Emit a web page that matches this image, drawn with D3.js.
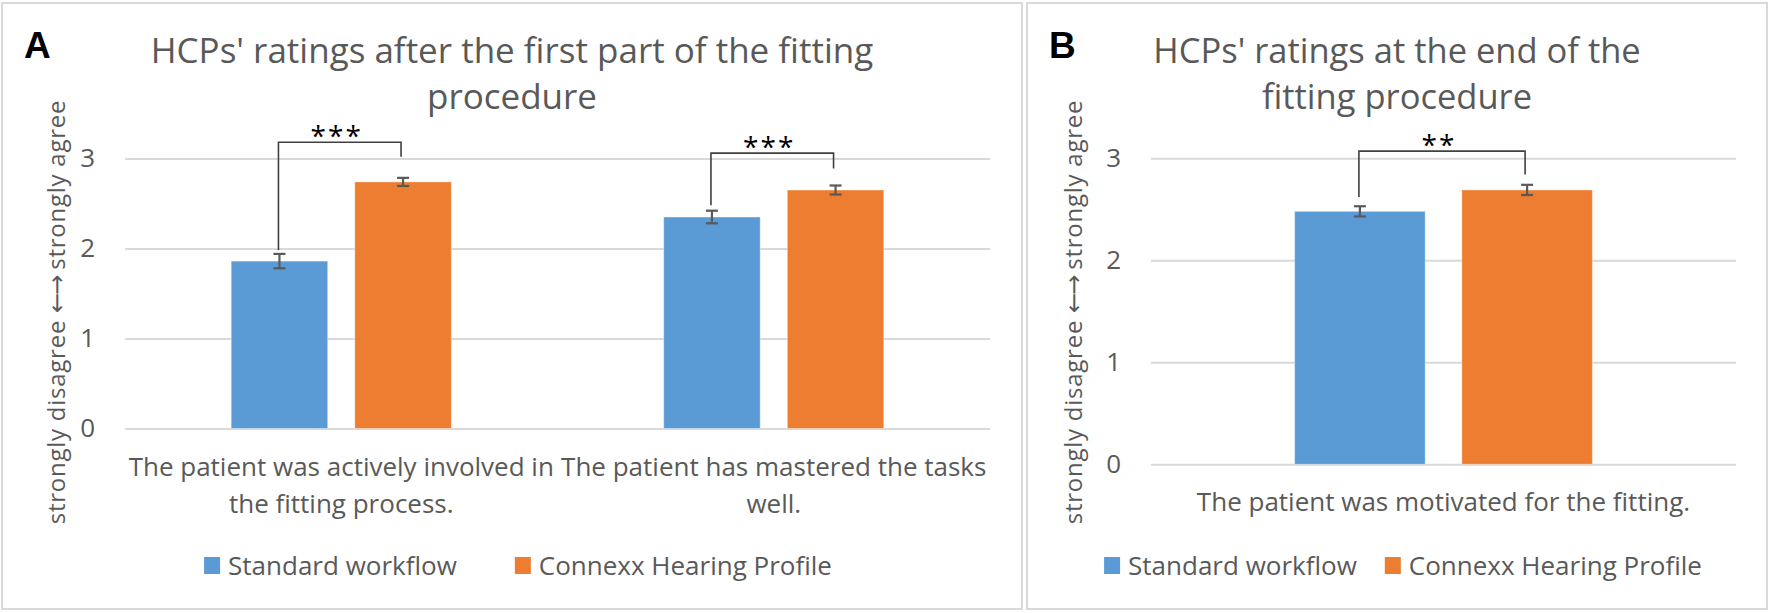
<!DOCTYPE html>
<html>
<head>
<meta charset="utf-8">
<script src="https://cdn.jsdelivr.net/npm/d3@7"></script>
<style>
  html, body { margin: 0; padding: 0; background: #fff; }
  svg { display: block; font-family: "Open Sans", "Noto Sans", sans-serif; }
</style>
</head>
<body>
<script>
// series shared by both panels
const seriesNames = ["Standard workflow", "Connexx Hearing Profile"];
const seriesColors = ["#5B9BD5", "#ED7D31"];
const yTicks = [0, 1, 2, 3];
const yTitle = "strongly disagree \u2190\u2192 strongly agree";

// panel A
const titleA = ["HCPs' ratings after the first part of the fitting", "procedure"];
const categoriesA = ["The patient was actively involved in the fitting process.", "The patient has mastered the tasks well."];
const standardA = [1.86, 2.35];
const connexxA = [2.74, 2.65];
const standardErrA = [0.08, 0.07];
const connexxErrA = [0.045, 0.05];
const starsA = ["***", "***"];
const bracketTopA = [3.18, 3.06];
const bracketLeftEndA = [1.98, 2.48];
const bracketRightEndA = [3.02, 2.89];

// panel B
const titleB = ["HCPs' ratings at the end of the", "fitting procedure"];
const categoriesB = ["The patient was motivated for the fitting."];
const standardB = [2.48];
const connexxB = [2.69];
const standardErrB = [0.05];
const connexxErrB = [0.05];
const starsB = ["**"];
const bracketTopB = [3.07];
const bracketLeftEndB = [2.62];
const bracketRightEndB = [2.84];

const width = 1770, height = 613;
const textColor = "#595959";

const svg = d3.select("body").append("svg")
  .attr("width", width)
  .attr("height", height)
  .attr("viewBox", [0, 0, width, height]);

svg.append("rect").attr("width", width).attr("height", height).attr("fill", "#fff");

function panel(opts) {
  const {
    frame, label, title, titleSize, categories, values, errors, stars,
    bracketTop, bracketLeftEnd, bracketRightEnd,
    plotLeft, plotRight, yBottom, yTop, yTitleX, legendCx, legendGap
  } = opts;

  const g = svg.append("g");

  // panel frame
  g.append("rect")
    .attr("x", frame[0]).attr("y", frame[1])
    .attr("width", frame[2]).attr("height", frame[3])
    .attr("fill", "#fff")
    .attr("stroke", "#D9D9D9")
    .attr("stroke-width", 2);

  const cx = frame[0] + frame[2] / 2;

  // panel letter
  g.append("text")
    .attr("x", frame[0] + 22).attr("y", 58)
    .attr("font-family", "Liberation Sans, Arial, sans-serif")
    .attr("font-weight", "bold")
    .attr("font-size", 37)
    .attr("fill", "#000")
    .text(label);

  // title
  g.append("g").selectAll("text")
    .data(title)
    .join("text")
    .attr("x", cx)
    .attr("y", (d, i) => 63 + i * 46)
    .attr("text-anchor", "middle")
    .attr("font-size", titleSize)
    .attr("fill", textColor)
    .text(d => d);

  const y = d3.scaleLinear().domain([0, 3]).range([yBottom, yTop]);

  const x0 = d3.scaleBand().domain(categories).range([plotLeft, plotRight]);
  const groupW = x0.bandwidth() * 0.509;
  const x1 = d3.scaleBand().domain(seriesNames)
    .range([-groupW / 2, groupW / 2])
    .paddingInner(0.219);

  // gridlines + tick labels
  g.append("g")
    .attr("transform", `translate(${plotLeft},0)`)
    .call(d3.axisLeft(y).tickValues(yTicks).tickFormat(d3.format("d"))
      .tickSize(-(plotRight - plotLeft)).tickPadding(30))
    .call(a => a.select(".domain").remove())
    .call(a => a.selectAll(".tick line").attr("stroke", "#D9D9D9").attr("stroke-width", 2))
    .call(a => a.selectAll(".tick text")
      .attr("font-size", 26)
      .attr("font-family", "Open Sans, sans-serif")
      .attr("fill", textColor));

  // y axis title (arrows drawn from DejaVu, Open Sans has none)
  const yt = g.append("text")
    .attr("transform", `translate(${yTitleX},312) rotate(-90)`)
    .attr("text-anchor", "middle")
    .attr("dy", "0.35em")
    .attr("font-size", 24)
    .attr("letter-spacing", 0.75)
    .attr("fill", textColor);
  yt.selectAll("tspan")
    .data(yTitle.split(/([\u2190-\u2199]+)/).filter(s => s.length))
    .join("tspan")
    .attr("font-family", d => /[\u2190-\u2199]/.test(d) ? "DejaVu Sans" : null)
    .attr("letter-spacing", d => /[\u2190-\u2199]/.test(d) ? -2 : null)
    .text(d => d);

  // bars
  const rows = categories.map((c, i) => seriesNames.map((s, k) => ({
    cat: c, series: s, k, value: values[k][i], err: errors[k][i]
  })));

  const groups = g.append("g").selectAll("g")
    .data(rows)
    .join("g")
    .attr("transform", (d, i) => `translate(${x0(categories[i]) + x0.bandwidth() / 2},0)`);

  groups.selectAll("rect")
    .data(d => d)
    .join("rect")
    .attr("x", d => x1(d.series))
    .attr("y", d => y(d.value))
    .attr("width", x1.bandwidth())
    .attr("height", d => y(0) - y(d.value))
    .attr("fill", d => seriesColors[d.k])
    .attr("stroke", "#fff")
    .attr("stroke-opacity", 0.4)
    .attr("stroke-width", 1);

  // error bars
  const eb = groups.selectAll("g.err")
    .data(d => d)
    .join("g")
    .attr("class", "err")
    .attr("stroke", "#595959")
    .attr("stroke-width", 2.2);
  const mid = d => x1(d.series) + x1.bandwidth() / 2;
  eb.append("line")
    .attr("x1", mid).attr("x2", mid)
    .attr("y1", d => y(d.value + d.err)).attr("y2", d => y(d.value - d.err));
  eb.append("line")
    .attr("x1", d => mid(d) - 6).attr("x2", d => mid(d) + 6)
    .attr("y1", d => y(d.value + d.err)).attr("y2", d => y(d.value + d.err));
  eb.append("line")
    .attr("x1", d => mid(d) - 6).attr("x2", d => mid(d) + 6)
    .attr("y1", d => y(d.value - d.err)).attr("y2", d => y(d.value - d.err));

  // significance brackets
  categories.forEach((c, i) => {
    const gx = x0(c) + x0.bandwidth() / 2;
    const xl = gx + x1(seriesNames[0]) + x1.bandwidth() / 2 - 1;
    const xr = gx + x1(seriesNames[1]) + x1.bandwidth() / 2 - 2;
    const ytop = y(bracketTop[i]);
    g.append("path")
      .attr("d", `M${xl},${y(bracketLeftEnd[i])}V${ytop}H${xr}V${y(bracketRightEnd[i])}`)
      .attr("fill", "none")
      .attr("stroke", "#404040")
      .attr("stroke-width", 1.6);
    g.append("text")
      .attr("x", (xl + xr) / 2 - 3)
      .attr("y", ytop + 4)
      .attr("text-anchor", "middle")
      .attr("font-size", 28)
      .attr("letter-spacing", 2)
      .attr("fill", "#000")
      .text(stars[i]);
  });

  // category labels, wrapped to band width
  categories.forEach(c => {
    const t = g.append("text")
      .attr("text-anchor", "middle")
      .attr("font-size", 26)
      .attr("fill", textColor);
    const words = c.split(" ");
    let lines = [], line = [];
    const probe = t.append("tspan");
    words.forEach(w => {
      line.push(w);
      probe.text(line.join(" "));
      if (probe.node().getComputedTextLength() > x0.bandwidth() + 6 && line.length > 1) {
        line.pop();
        lines.push(line.join(" "));
        line = [w];
      }
    });
    lines.push(line.join(" "));
    probe.remove();
    t.selectAll("tspan")
      .data(lines)
      .join("tspan")
      .attr("x", x0(c) + x0.bandwidth() / 2)
      .attr("y", (d, i) => y(0) + 47 + i * 37)
      .text(d => d);
  });

  // legend
  const leg = g.append("g");
  const items = leg.selectAll("g")
    .data(seriesNames)
    .join("g");
  items.append("rect")
    .attr("width", 16).attr("height", 17)
    .attr("y", 557)
    .attr("fill", (d, i) => seriesColors[i]);
  items.append("text")
    .attr("x", 24)
    .attr("y", 575)
    .attr("font-size", 26)
    .attr("fill", textColor)
    .text(d => d);
  let off = 0;
  items.each(function () {
    const w = 24 + d3.select(this).select("text").node().getComputedTextLength();
    d3.select(this).attr("transform", `translate(${off},0)`);
    off += w + legendGap;
  });
  const total = off - legendGap;
  leg.attr("transform", `translate(${legendCx - total / 2},0)`);
}

panel({
  frame: [2, 3, 1020, 606],
  label: "A",
  title: titleA,
  titleSize: 35,
  categories: categoriesA,
  values: [standardA, connexxA],
  errors: [standardErrA, connexxErrA],
  stars: starsA,
  bracketTop: bracketTopA,
  bracketLeftEnd: bracketLeftEndA,
  bracketRightEnd: bracketRightEndA,
  plotLeft: 125, plotRight: 990,
  yBottom: 428.5, yTop: 158.5,
  yTitleX: 57,
  legendCx: 518,
  legendGap: 58
});

panel({
  frame: [1027, 3, 740, 606],
  label: "B",
  title: titleB,
  titleSize: 34.5,
  categories: categoriesB,
  values: [standardB, connexxB],
  errors: [standardErrB, connexxErrB],
  stars: starsB,
  bracketTop: bracketTopB,
  bracketLeftEnd: bracketLeftEndB,
  bracketRightEnd: bracketRightEndB,
  plotLeft: 1151, plotRight: 1736,
  yBottom: 464.3, yTop: 158.3,
  yTitleX: 1074,
  legendCx: 1403,
  legendGap: 28
});
</script>
</body>
</html>
